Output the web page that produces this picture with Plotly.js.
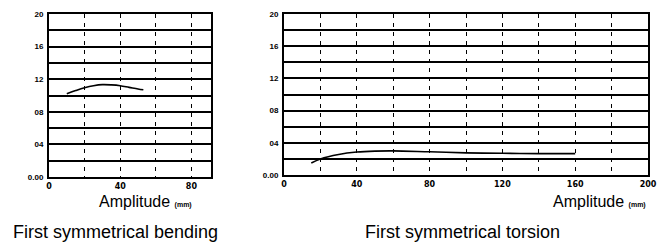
<!DOCTYPE html>
<html>
<head>
<meta charset="utf-8">
<script src="https://cdn.plot.ly/plotly-3.0.1.min.js"></script>
<style>html,body{margin:0;padding:0;background:#fff;}#chart{width:664px;height:244px;}</style>
</head>
<body>
<div id="chart"></div>
<script>
// Left: First symmetrical bending
const bendingAmplitude = [10, 15, 20, 25, 30, 35, 40, 45, 50, 53];
const bendingValue = [0.102, 0.106, 0.1095, 0.112, 0.1133, 0.113, 0.112, 0.110, 0.108, 0.107];
// Right: First symmetrical torsion
const torsionAmplitude = [15, 20, 30, 40, 50, 60, 80, 100, 120, 140, 160];
const torsionValue = [0.015, 0.020, 0.0255, 0.0285, 0.0297, 0.030, 0.0288, 0.0275, 0.027, 0.0265, 0.0265];

const yTickVals = [0, 0.04, 0.08, 0.12, 0.16, 0.20];
const yTickText = ["0.00", "04", "08", "12", "16", "20"];
const xTickValsLeft = [0, 40, 80];
const xTickValsRight = [0, 40, 80, 120, 160, 200];

const captions = ["First symmetrical bending", "First symmetrical torsion"];
const axisTitle = "Amplitude";
const unit = "(mm)";

const yTickFont = {family: "Liberation Sans, Arial, sans-serif", size: 8, color: "#000", weight: "bold"};
const xTickFont = {family: "DejaVu Sans, sans-serif", size: 8, color: "#000", weight: "bold"};

function yAxis(domain, anchor) {
  return {
    domain: domain, anchor: anchor, range: [0, 0.20],
    tickvals: yTickVals, ticktext: yTickText, tickfont: yTickFont,
    showgrid: true, gridcolor: "#000", gridwidth: 2,
    minor: {dtick: 0.02, tick0: 0, showgrid: true, gridcolor: "#000", gridwidth: 2, ticks: ""},
    showline: true, linecolor: "#000", linewidth: 2, mirror: true,
    ticks: "", ticklabelstandoff: 2, zeroline: false, fixedrange: true
  };
}
function xAxis(domain, anchor, range, tickvals) {
  return {
    domain: domain, anchor: anchor, range: range,
    tickvals: tickvals, ticktext: tickvals.map(String), tickfont: xTickFont,
    showgrid: true, gridcolor: "#000", gridwidth: 1, griddash: "4px,5px",
    minor: {dtick: 20, tick0: 0, showgrid: true, gridcolor: "#000", gridwidth: 1, griddash: "4px,5px", ticks: ""},
    showline: true, linecolor: "#000", linewidth: 2, mirror: true,
    ticks: "", ticklabelstandoff: 0, zeroline: false, fixedrange: true
  };
}

const data = [
  {x: bendingAmplitude, y: bendingValue, xaxis: "x", yaxis: "y", mode: "lines",
   line: {color: "#000", width: 1.6, shape: "spline"}, showlegend: false, hoverinfo: "skip"},
  {x: torsionAmplitude, y: torsionValue, xaxis: "x2", yaxis: "y2", mode: "lines",
   line: {color: "#000", width: 1.6, shape: "spline"}, showlegend: false, hoverinfo: "skip"}
];

const titleFont = {family: "Liberation Sans, Arial, sans-serif", size: 16, color: "#000"};
const capFont = {family: "Liberation Sans, Arial, sans-serif", size: 18, color: "#000"};
const unitHtml = " <span style='font-size:7px;font-weight:bold;fill:#000;color:#000'>" + unit + "</span>";

const layout = {
  width: 664, height: 244,
  margin: {l: 0, r: 0, t: 0, b: 0},
  paper_bgcolor: "#fff", plot_bgcolor: "#fff",
  xaxis: xAxis([49/664, 211/664], "y", [0, 91], xTickValsLeft),
  yaxis: yAxis([67/244, 230/244], "x"),
  xaxis2: xAxis([284/664, 648/664], "y2", [0, 200], xTickValsRight),
  yaxis2: yAxis([69/244, 230/244], "x2"),
  annotations: [
    {xref: "paper", yref: "paper", x: 97/664, y: 1 - 201/244, xanchor: "left", yanchor: "middle", showarrow: false,
     text: axisTitle + unitHtml, font: titleFont},
    {xref: "paper", yref: "paper", x: 551/664, y: 1 - 201/244, xanchor: "left", yanchor: "middle", showarrow: false,
     text: axisTitle + unitHtml, font: titleFont},
    {xref: "paper", yref: "paper", x: 11/664, y: 1 - 232/244, xanchor: "left", yanchor: "middle", showarrow: false,
     text: captions[0], font: capFont},
    {xref: "paper", yref: "paper", x: 363/664, y: 1 - 232/244, xanchor: "left", yanchor: "middle", showarrow: false,
     text: captions[1], font: capFont}
  ]
};

Plotly.newPlot("chart", data, layout, {displayModeBar: false, staticPlot: true});
</script>
</body>
</html>
